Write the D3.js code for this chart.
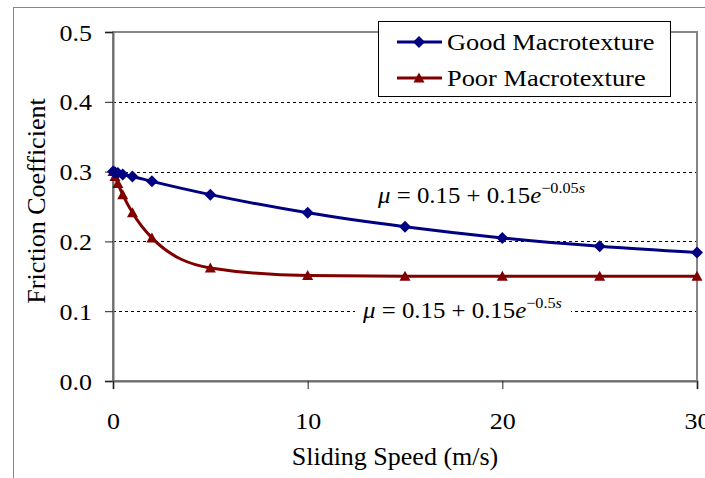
<!DOCTYPE html>
<html>
<head>
<meta charset="utf-8">
<script src="https://cdn.jsdelivr.net/npm/d3@7"></script>
<style>
  html, body { margin: 0; padding: 0; background: #fff; }
  svg { display: block; }
</style>
</head>
<body>
<svg id="chart" width="705" height="478"></svg>
<script>
// Sliding speed (m/s) at which friction was evaluated
const speed = [0, 0.1, 0.25, 0.5, 1, 2, 5, 10, 15, 20, 25, 30];
// Friction coefficient, good macrotexture surface
const goodMacro = [0.300, 0.299, 0.298, 0.296, 0.293, 0.286, 0.267, 0.241, 0.221, 0.205, 0.193, 0.184];
// Friction coefficient, poor macrotexture surface
const poorMacro = [0.300, 0.293, 0.283, 0.267, 0.241, 0.205, 0.162, 0.151, 0.150, 0.150, 0.150, 0.150];

const seriesNames = ["Good Macrotexture", "Poor Macrotexture"];
const xTicks = [0, 10, 20, 30];
const yTicks = [0.0, 0.1, 0.2, 0.3, 0.4, 0.5];

const FONT = '"Liberation Serif", "Times New Roman", serif';

const svg = d3.select("#chart");
const W = 705, H = 478;
const plot = { left: 113, right: 697, top: 32, bottom: 381 };

const x = d3.scaleLinear().domain([0, 30]).range([plot.left, plot.right]);
const y = d3.scaleLinear().domain([0, 0.5]).range([plot.bottom, plot.top]);

const navy = "#000080", maroon = "#800000", frame = "#868686";

// outer chart frame
svg.append("rect")
  .attr("x", 13.5).attr("y", 7.5)
  .attr("width", W + 20).attr("height", H + 20)
  .attr("fill", "#fff").attr("stroke", frame).attr("stroke-width", 1);

// horizontal dashed gridlines
svg.append("g")
  .selectAll("line")
  .data(yTicks.filter(v => v > 0 && v < 0.5))
  .join("line")
  .attr("x1", plot.left).attr("x2", plot.right)
  .attr("y1", d => Math.round(y(d)) + 0.5).attr("y2", d => Math.round(y(d)) + 0.5)
  .attr("stroke", "#000").attr("stroke-width", 1)
  .attr("stroke-dasharray", "3,3");

// plot-area border
svg.append("rect")
  .attr("x", plot.left).attr("y", plot.top)
  .attr("width", plot.right - plot.left).attr("height", plot.bottom - plot.top)
  .attr("fill", "none").attr("stroke", frame).attr("stroke-width", 2);

// axes
const yAxis = d3.axisLeft(y).tickValues(yTicks).tickSize(8).tickFormat(d3.format(".1f"));
const xAxis = d3.axisBottom(x).tickValues(xTicks).tickSize(8).tickFormat(d3.format("d"));

const gy = svg.append("g").attr("transform", `translate(${plot.left},0)`).call(yAxis);
const gx = svg.append("g").attr("transform", `translate(0,${plot.bottom})`).call(xAxis);

[gy, gx].forEach(g => {
  g.attr("font-family", null).attr("font-size", null);
  g.select(".domain").attr("stroke", "#6e6e6e").attr("stroke-width", 2);
  g.selectAll(".tick line").attr("stroke", "#222").attr("stroke-width", 1);
  g.selectAll(".tick text").style("font-family", FONT).style("font-size", "23px").attr("fill", "#000");
});
gy.selectAll(".tick text")
  .attr("x", 0).attr("dy", null)
  .attr("transform", "translate(-21,8) scale(1.13,1)");
gx.selectAll(".tick text")
  .attr("y", 0).attr("dy", null)
  .attr("transform", "translate(0,48) scale(1.13,1)");

// axis titles
svg.append("text")
  .attr("x", 395).attr("y", 465)
  .attr("text-anchor", "middle")
  .style("font-family", FONT).style("font-size", "26px")
  .text("Sliding Speed (m/s)");

svg.append("text")
  .attr("transform", "translate(45,201) rotate(-90)")
  .attr("text-anchor", "middle")
  .style("font-family", FONT).style("font-size", "26px")
  .text("Friction Coefficient");

// series lines
const line = d3.line().curve(d3.curveMonotoneX);
const goodPts = speed.map((s, i) => [x(s), y(goodMacro[i])]);
const poorPts = speed.map((s, i) => [x(s), y(poorMacro[i])]);

const diamond = "M0,-6L6,0L0,6L-6,0Z";
const triangle = "M0,-5.5L5.5,4.5L-5.5,4.5Z";

// fitted-curve equations (the lower one sits on a white patch over the gridline)
function equation(x0, y0, k, boxed) {
  const g = svg.append("g");
  const t = g.append("text")
    .attr("transform", `translate(${x0},${y0}) scale(1.08,1)`)
    .style("font-family", FONT).style("font-size", "23px").attr("fill", "#000");
  t.append("tspan").attr("font-style", "italic").text("\u03bc");
  t.append("tspan").text(" = 0.15 + 0.15");
  t.append("tspan").attr("font-style", "italic").text("e");
  t.append("tspan").style("font-size", "15px").attr("dy", -10).text("\u2212" + k);
  t.append("tspan").style("font-size", "15px").attr("font-style", "italic").text("s");
  if (boxed) {
    const b = t.node().getBBox();
    g.insert("rect", "text")
      .attr("x", x0 - 8).attr("y", y0 + b.y - 2)
      .attr("width", b.width * 1.08 + 16).attr("height", b.height + 4)
      .attr("fill", "#fff");
  }
}
equation(378, 203, "0.05", false);
equation(363, 318, "0.5", true);

svg.append("path").attr("d", line(poorPts))
  .attr("fill", "none").attr("stroke", maroon).attr("stroke-width", 3);
svg.append("path").attr("d", line(goodPts))
  .attr("fill", "none").attr("stroke", navy).attr("stroke-width", 3);

svg.append("g").selectAll("path").data(poorPts).join("path")
  .attr("d", triangle).attr("fill", maroon)
  .attr("transform", d => `translate(${d[0]},${d[1]})`);
svg.append("g").selectAll("path").data(goodPts).join("path")
  .attr("d", diamond).attr("fill", navy)
  .attr("transform", d => `translate(${d[0]},${d[1]})`);

// legend
const lg = svg.append("g");
lg.append("rect")
  .attr("x", 378.5).attr("y", 21.5).attr("width", 292).attr("height", 75)
  .attr("fill", "#fff").attr("stroke", "#000").attr("stroke-width", 1);
const legendRows = [
  { name: seriesNames[0], color: navy, shape: diamond, cy: 42 },
  { name: seriesNames[1], color: maroon, shape: triangle, cy: 78 }
];
legendRows.forEach(r => {
  lg.append("line").attr("x1", 397).attr("x2", 442)
    .attr("y1", r.cy).attr("y2", r.cy)
    .attr("stroke", r.color).attr("stroke-width", 3);
  lg.append("path").attr("d", r.shape).attr("fill", r.color)
    .attr("transform", `translate(419,${r.cy})`);
  lg.append("text")
    .attr("transform", `translate(447,${r.cy + 8}) scale(1.1,1)`)
    .style("font-family", FONT).style("font-size", "24px").attr("fill", "#000")
    .text(r.name);
});
</script>
</body>
</html>
